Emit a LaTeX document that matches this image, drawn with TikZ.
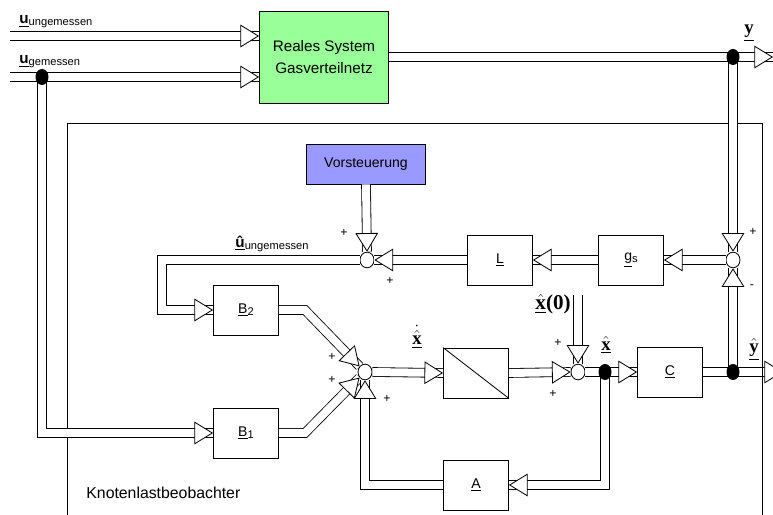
\documentclass[tikz,border=0pt]{standalone}
\usepackage{amsmath}
\usepackage{bm}
\usepackage{fontspec}
\setmainfont{Liberation Sans}
\newfontfamily\tmsfont{Liberation Serif}
\usepackage{tikz}
\usetikzlibrary{arrows.meta,calc,shapes.geometric}
\newcommand{\lowidx}[1]{\raisebox{-1.5pt}{\fontsize{9.5}{10}\selectfont #1}}
\newcommand{\vecx}{\text{\tmsfont\bfseries x}}
\newcommand{\vecy}{\text{\tmsfont\bfseries y}}
\definecolor{sysgreen}{RGB}{153,255,153}
\definecolor{vorblue}{RGB}{153,153,255}

\begin{document}
\begin{tikzpicture}[
  x=0.03cm, y=-0.03cm,
  line width=0.7pt,
  base/.style   = {draw, inner sep=0pt, text=black},
  blk/.style    = {base, minimum width=1.95cm, minimum height=1.5cm, font=\fontsize{12}{14}\selectfont},
  sysnd/.style  = {base, fill=sysgreen, minimum width=3.87cm, minimum height=2.76cm,
                   align=center, font=\fontsize{13}{19}\selectfont},
  vornd/.style  = {base, fill=vorblue, minimum width=3.57cm, minimum height=1.2cm,
                   font=\fontsize{12}{14}\selectfont},
  sumnd/.style  = {draw, ellipse, minimum width=0.42cm, minimum height=0.47cm, inner sep=0pt},
  jdot/.style   = {ellipse, fill=black, minimum width=0.39cm, minimum height=0.48cm, inner sep=0pt},
  sig/.style    = {draw, double, double distance=0.24cm,
                   postaction={draw=white, line width=0.1pt,
                     -{Triangle[color=black, fill=white, line width=0.7pt, length=0.56cm, width=0.68cm]}}},
  lbl/.style    = {inner sep=0pt, font=\fontsize{13}{14}\selectfont},
  mlbl/.style   = {inner sep=0pt, font=\fontsize{16}{18}\selectfont},
  sgn/.style    = {inner sep=0pt, font=\fontsize{10.5}{11}\selectfont}
]
\useasboundingbox (0,0) rectangle (773,515);
\draw (67,530) |- (762,123) -- (762,530);
\node[anchor=west, inner sep=0pt, font=\fontsize{13.5}{15}\selectfont] (obsname) at (86,493) {Knotenlastbeobachter};

\node[sysnd] (sys) at (324,57) {Reales System\\Gasverteilnetz};
\node[vornd] (vor) at (366,164) {Vorsteuerung};
\node[blk] (L) at (500,260) {\underline{L}};
\node[blk] (gs) at (631,260) {\underline{g}\lowidx{s}};
\node[blk] (B2) at (246,310) {\underline{B}\lowidx{2}};
\node[blk] (B1) at (246,433) {\underline{B}\lowidx{1}};
\node[blk] (integ) at (476,373) {};
\draw (integ.north west) -- (integ.south east);
\node[blk] (C) at (670,372) {\underline{C}};
\node[blk] (A) at (476,485) {\underline{A}};
\node[sumnd] (sumU) at (367,260) {};
\node[sumnd] (sumR) at (733,260) {};
\node[sumnd] (sumA) at (365,372) {};
\node[sumnd] (sumB) at (578,372) {};

\coordinate (uin1) at (10,36);
\coordinate (uin2) at (10,77);
\coordinate (uj) at (42,77);
\coordinate (yj) at (733,57);
\coordinate (yout) at (773,57);
\coordinate (yhj) at (733,372);
\coordinate (yhout) at (783,372);
\coordinate (xj) at (605,372);
\coordinate (xnull) at (578,295);
\coordinate (bendB) at (162,260);
\coordinate (kB2) at (305,310);
\coordinate (kB1) at (305,433);

\draw[sig] (uin1) -- (uin1 -| sys.west);
\draw[sig] (uin2) -- (uin2 -| sys.west);
\draw[sig] (uj) |- (B1.west);
\draw[sig] (sys.east) -- (yout);
\draw[sig] (yj) -- (sumR.north);
\draw[sig] (sumR.west) -- (gs.east);
\draw[sig] (gs.west) -- (L.east);
\draw[sig] (L.west) -- (sumU.east);
\draw[sig] (vor.south) -- (sumU.north);
\draw[sig] (sumU.west) -- (bendB) |- (B2.west);
\draw[sig] (B2.east) -- (kB2) -- (sumA);
\draw[sig] (B1.east) -- (kB1) -- (sumA);
\draw[sig] (sumA.east) -- (integ.west);
\draw[sig] (integ.east) -- (sumB.west);
\draw[sig] (xnull) -- (sumB.north);
\draw[sig] (sumB.east) -- (C.west);
\draw[sig] (C.east) -- (yhout);
\draw[sig] (yhj) -- (sumR.south);
\draw[sig] (xj) |- (A.east);
\draw[sig] (A.west) -| (sumA.south);
\draw (762,355) -- (762,390);

\node[jdot] (udot) at (uj) {};
\node[jdot] (ydot) at (yj) {};
\node[jdot] (xdot) at (xj) {};
\node[jdot] (yhdot) at (yhj) {};

\node[lbl, anchor=west] (lUung) at (19,22) {\underline{\textbf{u}}\lowidx{ungemessen}};
\node[lbl, anchor=west] (lUgem) at (19,62) {\underline{\textbf{u}}\lowidx{gemessen}};
\node[lbl] (lUhat) at (272,244) {\underline{\textbf{û}}\lowidx{ungemessen}};
\node[mlbl] (lY) at (749,33) {$\underline{\vecy}$};
\node[mlbl] (lXdot) at (417,337) {$\underline{\bm{\dot{\bm{\hat{\vecx}}}}}$};
\node[mlbl, anchor=east, font=\fontsize{18}{20}\selectfont] (lXnull) at (571,304) {$\underline{\bm{\hat{\vecx}}}\text{\tmsfont\bfseries (0)}$};
\node[mlbl] (lXhat) at (606,345) {$\underline{\bm{\hat{\vecx}}}$};
\node[mlbl] (lYhat) at (754,350) {$\underline{\bm{\hat{\vecy}}}$};

\node[sgn] (pU1) at (344,233) {+};
\node[sgn] (pU2) at (390,281) {+};
\node[sgn] (pR1) at (753,232) {+};
\node[sgn] (mR2) at (752,287) {-};
\node[sgn] (pA1) at (332,357) {+};
\node[sgn] (pA2) at (332,380) {+};
\node[sgn] (pA3) at (387,399) {+};
\node[sgn] (pB1) at (558,343) {+};
\node[sgn] (pB2) at (553,394) {+};
\end{tikzpicture}
\end{document}
